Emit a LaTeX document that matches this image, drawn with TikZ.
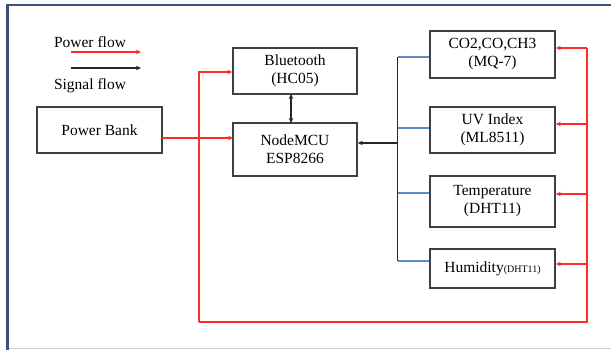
\documentclass[tikz,border=0pt]{standalone}
\usepackage{fontspec}
\setmainfont{Liberation Serif}
\usetikzlibrary{arrows.meta}
\definecolor{frameblue}{HTML}{3A5377}
\definecolor{framegrey}{HTML}{C9CDD8}
\definecolor{pred}{HTML}{FF2A2A}
\definecolor{sblue}{HTML}{5B8AC4}
\begin{document}
\begin{tikzpicture}[x=1pt,y=-1pt,
  box/.style={draw=black!75,line width=1.4pt,inner sep=0pt,align=center,font=\fontsize{15.5}{18}\selectfont},
  lbl/.style={inner sep=0pt,font=\fontsize{15.5}{18}\selectfont},
  pw/.style={draw=pred,line width=1.3pt,-{Stealth[length=5pt,width=4.5pt]}},
  pwline/.style={draw=pred,line width=1.3pt},
  sig/.style={draw=black!85,line width=1.1pt,-{Stealth[length=5pt,width=4.5pt]}},
  sigline/.style={draw=black!85,line width=1.2pt},
  bl/.style={draw=sblue,line width=1.2pt}]
\useasboundingbox (0,0) rectangle (611,350);
% frame
\draw[frameblue,line width=2pt] (6.5,5.5) -- (611,5.5);
\draw[frameblue,line width=2.2pt] (7.5,4.5) -- (7.5,350);
\draw[framegrey,line width=1.5pt] (8.5,348.5) -- (611,348.5);
% legend
\node[lbl] (lp) at (90,42.5) {Power flow};
\node[lbl] (ls) at (90,86) {Signal flow};
\coordinate (lpa) at (71,52);
\coordinate (lpb) at (141,52);
\coordinate (lsa) at (71,68);
\coordinate (lsb) at (141,68);
\draw[pw] (lpa) -- (lpb);
\draw[sig] (lsa) -- (lsb);
% boxes
\node[box,minimum width=125,minimum height=46] (pb) at (99.5,130) {Power Bank};
\node[box,minimum width=124,minimum height=46] (bt) at (295,71) {Bluetooth\\(HC05)};
\node[box,minimum width=124,minimum height=53] (mcu) at (295,149.5) {NodeMCU\\ESP8266};
\node[box,minimum width=125,minimum height=47] (co) at (492.5,54.5) {CO2,CO,CH3\\(MQ-7)};
\node[box,minimum width=125,minimum height=46] (uv) at (492.5,130) {UV Index\\(ML8511)};
\node[box,minimum width=125,minimum height=51] (tp) at (492.5,201.5) {Temperature\\(DHT11)};
\node[box,minimum width=125,minimum height=39] (hm) at (492.5,268.5) {Humidity{\fontsize{10}{12}\selectfont(DHT11)}};
% power
\coordinate (pbo) at (161.5,138);
\coordinate (mci) at (233,138);
\draw[pw] (pbo) -- (mci);
\coordinate (rl) at (199,322);
\coordinate (rr) at (587,322);
\coordinate (rt) at (587,48);
\coordinate (r2) at (587,124);
\coordinate (r3) at (587,194);
\coordinate (r4) at (587,264);
\coordinate (rb) at (199,72);
\draw[pw] (rl) -- (rb) -- (bt.west |- rb);
\draw[pwline] (rl) -- (rr) -- (rt);
\draw[pw] (rt) -- (co.east |- rt);
\draw[pw] (r2) -- (uv.east |- r2);
\draw[pw] (r3) -- (tp.east |- r3);
\draw[pw] (r4) -- (hm.east |- r4);
% signal bus
\coordinate (b1) at (397.5,57);
\coordinate (b2) at (397.5,128);
\coordinate (b3) at (397.5,193);
\coordinate (b4) at (397.5,261);
\coordinate (bm) at (397.5,143);
\draw[sigline] (b1) -- (b4);
\draw[bl] (b1) -- (co.west |- b1);
\draw[bl] (b2) -- (uv.west |- b2);
\draw[bl] (b3) -- (tp.west |- b3);
\draw[bl] (b4) -- (hm.west |- b4);
\draw[sig] (bm) -- (mcu.east |- bm);
% bluetooth <-> mcu
\coordinate (d1) at (291,94);
\coordinate (d2) at (291,123);
\draw[sig,{Stealth[length=5pt,width=4.5pt]}-{Stealth[length=5pt,width=4.5pt]}] (d1) -- (d2);
\end{tikzpicture}
\end{document}
